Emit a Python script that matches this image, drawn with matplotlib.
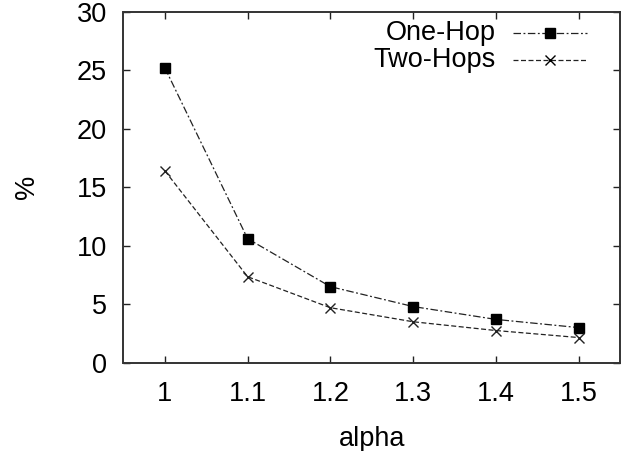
import matplotlib
matplotlib.use("Agg")
import matplotlib.pyplot as plt
from matplotlib.lines import Line2D

plt.rcParams['font.family'] = ['Liberation Sans', 'DejaVu Sans']

alpha = [1.0, 1.1, 1.2, 1.3, 1.4, 1.5]
one_hop = [25.2, 10.6, 6.5, 4.8, 3.7, 3.0]
two_hops = [16.4, 7.35, 4.7, 3.5, 2.75, 2.15]
xticks = [1, 1.1, 1.2, 1.3, 1.4, 1.5]
xticklabels = ["1", "1.1", "1.2", "1.3", "1.4", "1.5"]
yticks = [0, 5, 10, 15, 20, 25, 30]

fig = plt.figure(figsize=(6.32, 4.51), dpi=100)
W, H = 632, 451
ax = fig.add_axes([123.5 / W, 1 - 362.7 / H, (620 - 123.5) / W, (362.7 - 11.7) / H])

fs = 19.5
ax.plot(alpha, one_hop, color='#222222', lw=0.9, linestyle=(0, (6, 2, 1.5, 2)),
        marker='s', markersize=6.5, markerfacecolor='black', markeredgecolor='black')
ax.plot(alpha, two_hops, color='#222222', lw=0.9, linestyle=(0, (4, 2)),
        marker='x', markersize=6.5, markeredgewidth=1.0, markeredgecolor='#222222')

ax.set_xlim(0.95, 1.55)
ax.set_ylim(0, 30)
ax.set_xticks(xticks)
ax.set_xticklabels(xticklabels)
ax.set_yticks(yticks)
ax.tick_params(direction='in', length=5, width=1, labelsize=fs, top=True, right=True,
               color='#222222')
ax.tick_params(axis='y', pad=12)
ax.tick_params(axis='x', pad=13)
for s in ax.spines.values():
    s.set_linewidth(1.4)
    s.set_color('#333333')

ax.set_xlabel('alpha', fontsize=fs, labelpad=14)
ax.set_ylabel('%', fontsize=fs, labelpad=26)

# manual legend (gnuplot style, right-aligned labels)
rows = [("One-Hop", 0.940, (0, (6, 2, 1.5, 2)), 's'), ("Two-Hops", 0.862, (0, (4, 2)), 'x')]
for label, yy, ls, mk in rows:
    ax.text(0.750, yy, label, transform=ax.transAxes, ha='right', va='center', fontsize=fs)
    ax.add_line(Line2D([0.784, 0.934], [yy, yy], transform=ax.transAxes, color='#222222',
                       lw=0.9, linestyle=ls))
    ax.add_line(Line2D([0.859], [yy], transform=ax.transAxes, color='#222222', marker=mk,
                       markersize=6.5, markerfacecolor='black', markeredgecolor='black',
                       markeredgewidth=1.0, linestyle='none'))

fig.savefig("out.png", dpi=100)
